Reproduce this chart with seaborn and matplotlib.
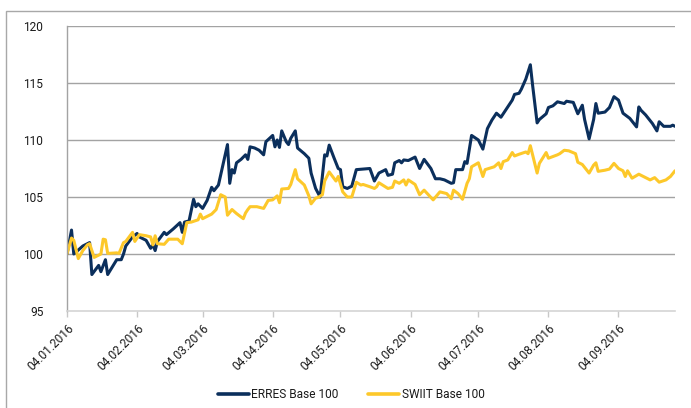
import matplotlib
matplotlib.use("Agg")
import matplotlib.pyplot as plt
import matplotlib.dates as mdates
import matplotlib.patches as mpatches
from matplotlib.lines import Line2D
import seaborn as sns
import pandas as pd

# ERRES index, rebased to 100
erres_dates = [
    "2016-01-04", "2016-01-06", "2016-01-07", "2016-01-11", "2016-01-14", "2016-01-15",
    "2016-01-18", "2016-01-19", "2016-01-21", "2016-01-22", "2016-01-26", "2016-01-28",
    "2016-01-29", "2016-01-30", "2016-02-02", "2016-02-04", "2016-02-05", "2016-02-08",
    "2016-02-10", "2016-02-11", "2016-02-12", "2016-02-13", "2016-02-16", "2016-02-17",
    "2016-02-20", "2016-02-23", "2016-02-24", "2016-02-25", "2016-02-27", "2016-02-29",
    "2016-03-01", "2016-03-02", "2016-03-04", "2016-03-06", "2016-03-08", "2016-03-09",
    "2016-03-11", "2016-03-15", "2016-03-16", "2016-03-17", "2016-03-18", "2016-03-19",
    "2016-03-21", "2016-03-23", "2016-03-24", "2016-03-25", "2016-03-27", "2016-03-29",
    "2016-03-31", "2016-04-01", "2016-04-04", "2016-04-05", "2016-04-06", "2016-04-07",
    "2016-04-08", "2016-04-10", "2016-04-11", "2016-04-12", "2016-04-14", "2016-04-15",
    "2016-04-18", "2016-04-20", "2016-04-21", "2016-04-23", "2016-04-25", "2016-04-27",
    "2016-04-28", "2016-04-29", "2016-05-01", "2016-05-03", "2016-05-04", "2016-05-05",
    "2016-05-07", "2016-05-09", "2016-05-11", "2016-05-17", "2016-05-19", "2016-05-21",
    "2016-05-24", "2016-05-25", "2016-05-27", "2016-05-28", "2016-05-30", "2016-05-31",
    "2016-06-01", "2016-06-03", "2016-06-06", "2016-06-08", "2016-06-10", "2016-06-13",
    "2016-06-15", "2016-06-17", "2016-06-19", "2016-06-22", "2016-06-23", "2016-06-24",
    "2016-06-27", "2016-06-28", "2016-06-29", "2016-07-01", "2016-07-04", "2016-07-06",
    "2016-07-08", "2016-07-10", "2016-07-12", "2016-07-14", "2016-07-17", "2016-07-19",
    "2016-07-20", "2016-07-22", "2016-07-23", "2016-07-25", "2016-07-27", "2016-07-28",
    "2016-07-30", "2016-07-31", "2016-08-03", "2016-08-04", "2016-08-06", "2016-08-08",
    "2016-08-11", "2016-08-12", "2016-08-15", "2016-08-17", "2016-08-19", "2016-08-20",
    "2016-08-22", "2016-08-24", "2016-08-25", "2016-08-26", "2016-08-29", "2016-08-31",
    "2016-09-02", "2016-09-04", "2016-09-06", "2016-09-09", "2016-09-12", "2016-09-13",
    "2016-09-14", "2016-09-16", "2016-09-19", "2016-09-21", "2016-09-22", "2016-09-24",
    "2016-09-27", "2016-09-28", "2016-09-29",
]
erres_values = [
    100.0, 102.1, 100.0, 100.7, 101.0, 98.2,
    99.0, 98.45, 99.5, 98.2, 99.5, 99.5,
    100.0, 100.7, 101.5, 101.8, 101.5, 101.2,
    100.5, 100.8, 100.3, 101.1, 101.9, 101.7,
    102.2, 102.75, 101.9, 102.8, 102.9, 104.8,
    104.15, 104.4, 104.0, 104.7, 105.85, 105.55,
    106.05, 109.6, 106.2, 107.4, 107.1, 108.0,
    108.3, 108.7, 108.3, 109.4, 109.3, 109.1,
    108.7, 109.85, 110.4, 109.4, 110.0, 109.35,
    110.8, 109.85, 109.6, 110.15, 110.8, 109.3,
    108.8, 108.4, 107.1, 105.75, 105.0, 108.7,
    108.6, 109.55, 108.5, 107.5, 107.4, 105.9,
    105.75, 105.95, 107.4, 107.5, 106.4, 107.1,
    107.4, 106.9, 107.0, 108.0, 108.2, 108.0,
    108.25, 108.2, 108.5, 107.5, 108.3, 107.5,
    106.6, 106.6, 106.5, 106.2, 106.25, 107.4,
    107.4, 108.1, 107.95, 110.4, 110.0, 109.2,
    111.0, 111.75, 112.35, 112.0, 112.9, 113.5,
    114.0, 114.1, 114.45, 115.35, 116.6, 114.8,
    111.5, 111.8, 112.3, 112.85, 113.0, 113.35,
    113.2, 113.4, 113.3, 112.3, 113.05, 111.8,
    110.1, 111.8, 113.2, 112.35, 112.45, 112.85,
    113.8, 113.5, 112.35, 111.9, 111.15, 112.9,
    112.6, 112.2, 111.45, 110.8, 111.6, 111.2,
    111.2, 111.3, 111.2,
]

# SWIIT index, rebased to 100
swiit_dates = [
    "2016-01-04", "2016-01-06", "2016-01-07", "2016-01-09", "2016-01-11", "2016-01-13",
    "2016-01-14", "2016-01-16", "2016-01-19", "2016-01-20", "2016-01-21", "2016-01-22",
    "2016-01-26", "2016-01-27", "2016-01-29", "2016-01-30", "2016-02-02", "2016-02-03",
    "2016-02-05", "2016-02-08", "2016-02-10", "2016-02-11", "2016-02-12", "2016-02-13",
    "2016-02-16", "2016-02-18", "2016-02-22", "2016-02-24", "2016-02-26", "2016-02-28",
    "2016-03-02", "2016-03-03", "2016-03-04", "2016-03-06", "2016-03-08", "2016-03-10",
    "2016-03-12", "2016-03-14", "2016-03-15", "2016-03-17", "2016-03-19", "2016-03-22",
    "2016-03-23", "2016-03-24", "2016-03-25", "2016-03-28", "2016-03-31", "2016-04-02",
    "2016-04-04", "2016-04-06", "2016-04-07", "2016-04-08", "2016-04-11", "2016-04-12",
    "2016-04-14", "2016-04-15", "2016-04-18", "2016-04-20", "2016-04-21", "2016-04-23",
    "2016-04-24", "2016-04-26", "2016-04-27", "2016-04-29", "2016-05-02", "2016-05-03",
    "2016-05-05", "2016-05-07", "2016-05-09", "2016-05-11", "2016-05-13", "2016-05-14",
    "2016-05-17", "2016-05-19", "2016-05-20", "2016-05-21", "2016-05-25", "2016-05-27",
    "2016-05-28", "2016-05-30", "2016-06-01", "2016-06-02", "2016-06-03", "2016-06-06",
    "2016-06-08", "2016-06-10", "2016-06-14", "2016-06-17", "2016-06-20", "2016-06-22",
    "2016-06-23", "2016-06-25", "2016-06-27", "2016-06-29", "2016-06-30", "2016-07-01",
    "2016-07-04", "2016-07-06", "2016-07-07", "2016-07-11", "2016-07-13", "2016-07-14",
    "2016-07-15", "2016-07-17", "2016-07-19", "2016-07-20", "2016-07-22", "2016-07-25",
    "2016-07-26", "2016-07-27", "2016-07-30", "2016-07-31", "2016-08-03", "2016-08-04",
    "2016-08-08", "2016-08-09", "2016-08-11", "2016-08-13", "2016-08-16", "2016-08-17",
    "2016-08-19", "2016-08-22", "2016-08-24", "2016-08-25", "2016-08-26", "2016-08-29",
    "2016-08-31", "2016-09-02", "2016-09-04", "2016-09-06", "2016-09-07", "2016-09-08",
    "2016-09-10", "2016-09-13", "2016-09-14", "2016-09-17", "2016-09-18", "2016-09-20",
    "2016-09-22", "2016-09-25", "2016-09-27", "2016-09-29",
]
swiit_values = [
    100.0, 101.4, 101.2, 99.6, 100.3, 100.8,
    100.9, 99.7, 100.0, 101.3, 101.25, 100.05,
    100.1, 100.05, 101.0, 101.1, 101.9, 101.1,
    101.7, 101.6, 101.5, 100.8, 101.6, 100.9,
    100.85, 101.3, 101.3, 100.9, 102.75, 102.8,
    103.0, 103.5, 103.1, 103.3, 103.5, 103.9,
    105.2, 105.0, 103.4, 103.9, 103.55, 103.1,
    103.6, 103.9, 104.15, 104.15, 104.0, 104.7,
    104.75, 105.1, 104.5, 105.7, 105.75, 106.1,
    107.4, 106.6, 106.05, 105.1, 104.4, 104.9,
    104.95, 105.2, 106.4, 107.2, 106.4, 106.8,
    105.45, 105.0, 105.0, 106.3, 106.05, 106.1,
    105.9, 105.75, 105.9, 106.25, 105.75, 105.85,
    106.4, 106.2, 106.5, 106.05, 106.5, 106.1,
    105.2, 105.6, 104.75, 105.45, 105.3, 104.85,
    105.6, 105.3, 104.8, 106.2, 106.6, 107.65,
    108.0, 106.8, 107.4, 107.65, 108.0, 107.5,
    108.1, 108.25, 108.9, 108.6, 108.75, 108.95,
    108.8, 109.5, 107.1, 107.95, 108.9, 108.4,
    108.7, 108.8, 109.1, 109.05, 108.8, 108.05,
    107.85, 107.1, 107.8, 108.0, 107.25, 107.35,
    107.45, 107.95, 107.5, 107.3, 106.8, 107.3,
    106.65, 107.0, 106.9, 106.6, 106.5, 106.7,
    106.3, 106.5, 106.8, 107.3,
]

series_names = ["ERRES Base 100", "SWIIT Base 100"]
series_colors = ["#0b2f5c", "#fdc82a"]
y_ticks = [95, 100, 105, 110, 115, 120]
x_tick_dates = ["2016-01-04", "2016-02-04", "2016-03-04", "2016-04-04", "2016-05-04",
                "2016-06-04", "2016-07-04", "2016-08-04", "2016-09-04"]

df = pd.concat([
    pd.DataFrame({"date": pd.to_datetime(erres_dates), "value": erres_values,
                  "series": series_names[0]}),
    pd.DataFrame({"date": pd.to_datetime(swiit_dates), "value": swiit_values,
                  "series": series_names[1]}),
], ignore_index=True)

sns.set_theme(style="white")
plt.rcParams["font.family"] = ["Roboto", "DejaVu Sans"]

W, H = 691, 408
fig = plt.figure(figsize=(W / 100, H / 100), dpi=100)
ax = fig.add_axes([67 / W, 1 - 311 / H, (675 - 67) / W, (311 - 26) / H])

sns.lineplot(data=df, x="date", y="value", hue="series", hue_order=series_names,
             palette=series_colors, linewidth=2.2, ax=ax, legend=False)

ax.set_xlim(pd.Timestamp("2016-01-04"), pd.Timestamp("2016-09-29"))
ax.set_ylim(95, 120)
ax.set_yticks(y_ticks)
ax.set_xticks(pd.to_datetime(x_tick_dates))
ax.xaxis.set_major_formatter(mdates.DateFormatter("%d.%m.%Y"))
ax.set_xlabel("")
ax.set_ylabel("")

# horizontal grid
for v in y_ticks[1:]:
    ax.axhline(v, color="#a3a3a3", linewidth=1.0, zorder=0)

for side in ["top", "right"]:
    ax.spines[side].set_visible(False)
ax.spines["left"].set_color("#a3a3a3")
ax.spines["left"].set_linewidth(1.0)
ax.spines["bottom"].set_color("#d4d4d4")
ax.spines["bottom"].set_linewidth(1.2)

fs = 8.6
ax.tick_params(axis="y", length=0, pad=17, labelsize=fs, labelcolor="#1a1a1a")
ax.tick_params(axis="x", direction="out", length=4, width=1, color="#c8c8c8",
               pad=4, labelsize=fs, labelcolor="#1a1a1a", bottom=True)
for lab in ax.get_xticklabels():
    lab.set_rotation(45)
    lab.set_ha("right")
    lab.set_va("top")
    lab.set_rotation_mode("anchor")

handles = [Line2D([], [], color=c, linewidth=2.6) for c in series_colors]
fig.legend(handles, series_names, loc="center", bbox_to_anchor=(0.508, 1 - 395 / H),
           ncol=2, frameon=False, fontsize=fs, handlelength=2.6, handletextpad=0.2,
           columnspacing=2.5, labelcolor="#1a1a1a")

# outer frame
fig.patches.append(mpatches.Rectangle((6 / W, -0.1), 2.0, 1.1 - 11 / H,
                                      transform=fig.transFigure, fill=False,
                                      edgecolor="#a8a8a8", linewidth=1.0))

fig.savefig("out.png", dpi=100)
